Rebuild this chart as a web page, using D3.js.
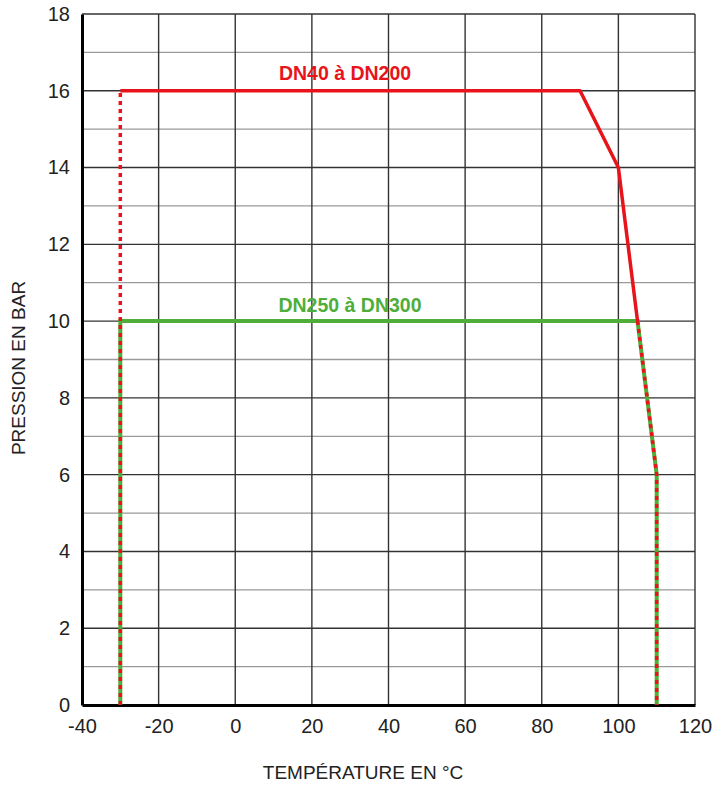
<!DOCTYPE html>
<html>
<head>
<meta charset="utf-8">
<script src="https://cdn.jsdelivr.net/npm/d3@7"></script>
<style>
  body { margin: 0; background: #fff; }
  text { font-family: "Liberation Sans", Arial, sans-serif; }
</style>
</head>
<body>
<div id="chart"></div>
<script>
// data
const xTicks = [-40, -20, 0, 20, 40, 60, 80, 100, 120];
const yTicks = [0, 2, 4, 6, 8, 10, 12, 14, 16, 18];
const yMinor = [1, 3, 5, 7, 9, 11, 13, 15, 17];

// DN40 à DN200 (red)
const redSolid = [[-30, 16], [90, 16], [100, 14], [105, 10]];
const redDashLeft = [[-30, 0], [-30, 16]];
const redDashRight = [[105, 10], [110, 6], [110, 0]];
// DN250 à DN300 (green)
const green = [[-30, 0], [-30, 10], [105, 10], [110, 6], [110, 0]];

const RED = "#e8141c", GREEN = "#4fae3a";

var margin = { top: 14, right: 20, bottom: 80, left: 82 },
    width = 715 - margin.left - margin.right,
    height = 785 - margin.top - margin.bottom;

var svg = d3.select("#chart")
    .append("svg")
    .attr("width", 715)
    .attr("height", 785)
    .append("g")
    .attr("transform", "translate(" + margin.left + "," + margin.top + ")");

const x = d3.scaleLinear().domain([-40, 120]).range([0, 613]);
const y = d3.scaleLinear().domain([0, 18]).range([691, 0]);

// grid
svg.selectAll(".hminor").data(yMinor).enter().append("line")
    .attr("x1", 0).attr("x2", x(120))
    .attr("y1", d => y(d)).attr("y2", d => y(d))
    .style("stroke", "#9a9a9a").style("stroke-width", 1.3);
svg.selectAll(".hmajor").data(yTicks.slice(1)).enter().append("line")
    .attr("x1", 0).attr("x2", x(120))
    .attr("y1", d => y(d)).attr("y2", d => y(d))
    .style("stroke", "#333").style("stroke-width", 1.4);
svg.selectAll(".vgrid").data(xTicks.slice(1)).enter().append("line")
    .attr("x1", d => x(d)).attr("x2", d => x(d))
    .attr("y1", 0).attr("y2", y(0))
    .style("stroke", "#333").style("stroke-width", 1.4);

// axes (plain hyphen for negatives, like the original)
const fmt = d => String(d);
const xAxis = svg.append("g")
    .attr("transform", `translate(0, ${y(0)})`)
    .call(d3.axisBottom(x).tickValues(xTicks).tickFormat(fmt).tickSize(0).tickPadding(14));
const yAxis = svg.append("g")
    .call(d3.axisLeft(y).tickValues(yTicks).tickFormat(fmt).tickSize(0).tickPadding(12));
[xAxis, yAxis].forEach(a => {
    a.select(".domain").style("stroke", "#000").style("stroke-width", 3);
    a.selectAll("text").style("font-size", "20px").style("fill", "#222")
        .style("font-family", "'Liberation Sans', Arial, sans-serif");
});

const line = d3.line().x(d => x(d[0])).y(d => y(d[1]));

svg.append("path").datum(green).attr("d", line)
    .style("fill", "none").style("stroke", GREEN).style("stroke-width", 4);
svg.append("path").datum(redSolid).attr("d", line)
    .style("fill", "none").style("stroke", RED).style("stroke-width", 3.5)
    .style("stroke-linejoin", "round");
[redDashLeft, redDashRight].forEach(seg => {
    svg.append("path").datum(seg).attr("d", line)
        .style("fill", "none").style("stroke", RED).style("stroke-width", 3.5)
        .style("stroke-dasharray", "4,4");
});

// labels
svg.append("text").text("DN40 à DN200")
    .attr("x", 345 - margin.left).attr("y", y(16) - 11)
    .style("text-anchor", "middle").style("font-size", "19.5px")
    .style("font-weight", "bold").style("fill", RED);
svg.append("text").text("DN250 à DN300")
    .attr("x", 350 - margin.left).attr("y", y(10) - 9)
    .style("text-anchor", "middle").style("font-size", "19.5px")
    .style("font-weight", "bold").style("fill", GREEN);

svg.append("text").text("TEMPÉRATURE EN °C")
    .attr("transform", `translate(${363 - margin.left}, ${y(0) + 74})`)
    .style("text-anchor", "middle").style("font-size", "19px").style("fill", "#222");
svg.append("text").text("PRESSION EN BAR")
    .attr("transform", "rotate(-90)")
    .attr("x", -(368 - margin.top))
    .attr("y", -margin.left + 25)
    .style("text-anchor", "middle").style("font-size", "19px").style("fill", "#222");
</script>
</body>
</html>
